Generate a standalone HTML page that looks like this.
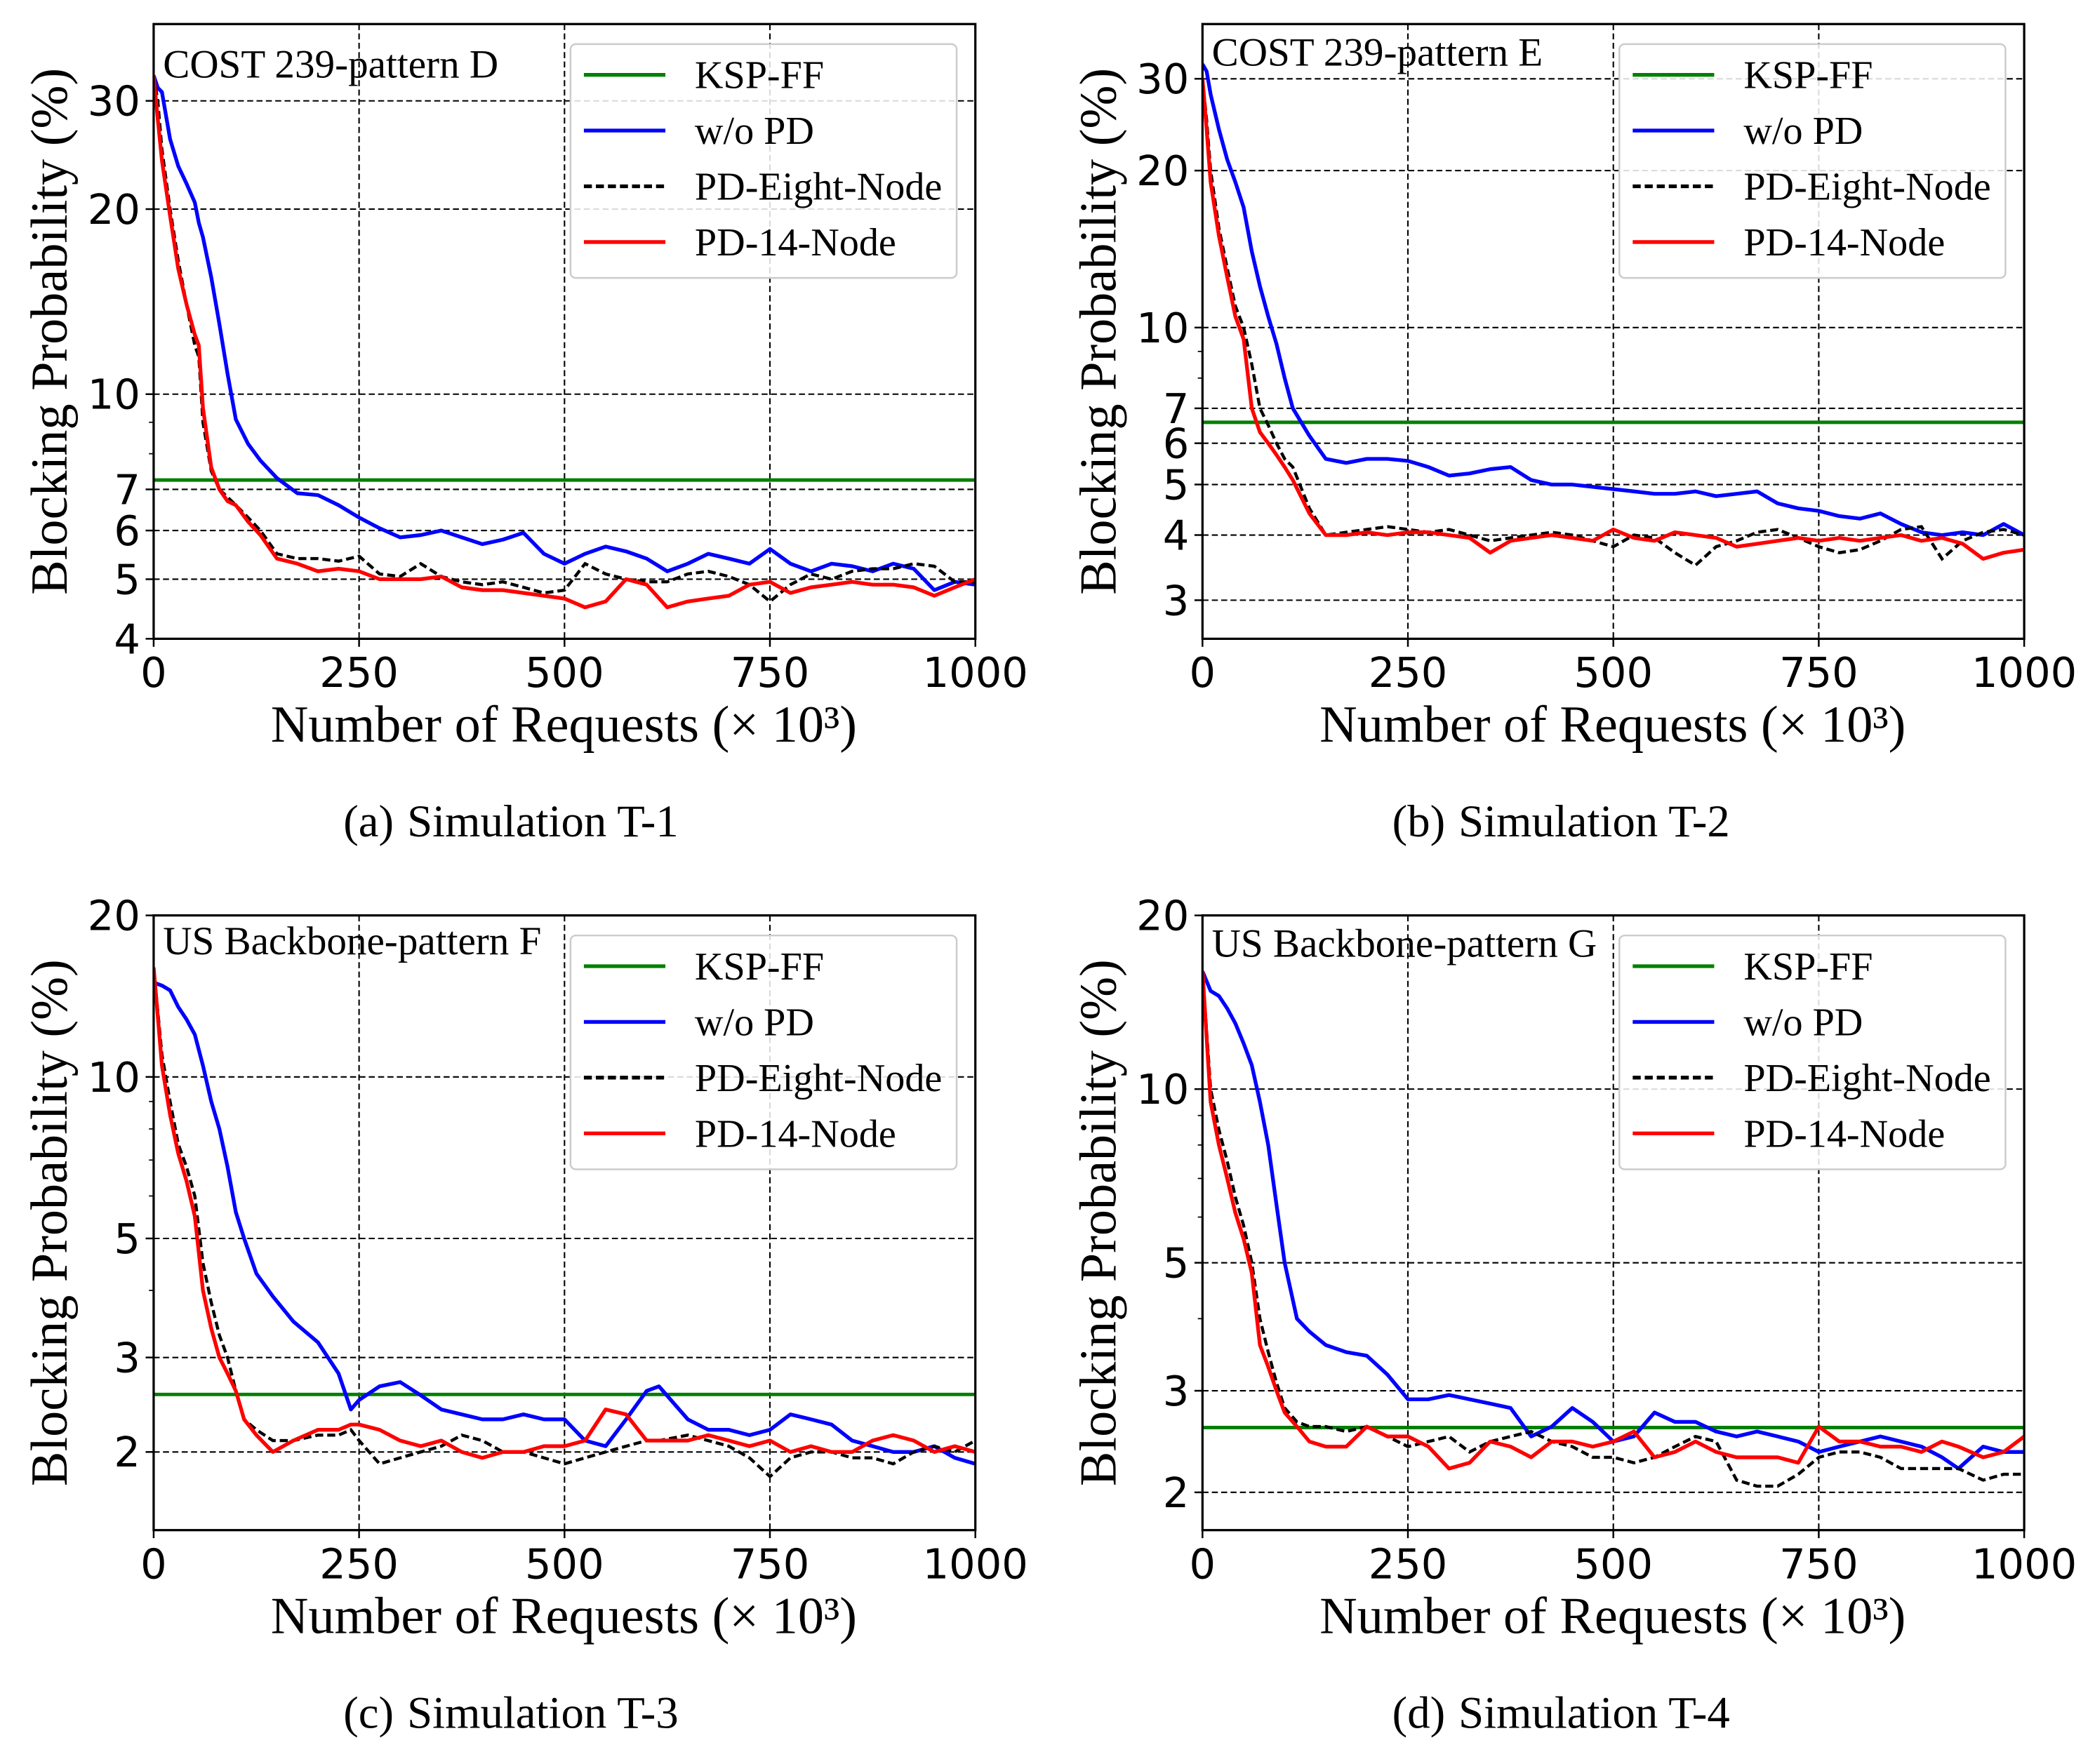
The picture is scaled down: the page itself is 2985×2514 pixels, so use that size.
<!DOCTYPE html>
<html><head><meta charset="utf-8"><style>html,body{margin:0;padding:0;background:#fff}svg{display:block}</style></head>
<body>
<svg id="fig" xmlns="http://www.w3.org/2000/svg" width="2985" height="2514" viewBox="0 0 1568 1320" preserveAspectRatio="none"></svg>
<script>
// ---------- data ----------
const seriesNames = ["KSP-FF","w/o PD","PD-Eight-Node","PD-14-Node"];
const kspA = 7.25, kspB = 6.58, kspC = 2.56, kspD = 2.59;

const xA = [0,5,10,20,30,40,50,55,60,70,80,90,100,115,130,150,175,200,225,250,275,300,325,350,375,400,425,450,475,500,525,550,575,600,625,650,675,700,725,750,775,800,825,850,875,900,925,950,975,1000];
const blueA = [33,31.5,31,26,23.5,22,20.5,19,18,15.5,13,10.8,9.1,8.3,7.8,7.3,6.9,6.85,6.6,6.3,6.05,5.85,5.9,6.0,5.85,5.7,5.8,5.95,5.5,5.3,5.5,5.65,5.55,5.4,5.15,5.3,5.5,5.4,5.3,5.6,5.3,5.15,5.3,5.25,5.15,5.3,5.2,4.8,4.95,4.9];
const eightA = [33,30,25,20,16.5,14,12,11.5,9,7.5,7.0,6.8,6.6,6.3,6.0,5.5,5.4,5.4,5.35,5.45,5.1,5.05,5.3,5.05,4.95,4.9,4.95,4.85,4.75,4.8,5.3,5.1,5.0,4.95,4.95,5.1,5.15,5.05,4.9,4.6,4.9,5.1,5.0,5.15,5.2,5.2,5.3,5.25,4.95,4.95];
const redA = [33,28,24,19.5,16,14,12.5,12,9.5,7.6,7.0,6.7,6.6,6.2,5.9,5.4,5.3,5.15,5.2,5.15,5.0,5.0,5.0,5.05,4.85,4.8,4.8,4.75,4.7,4.65,4.5,4.6,5.0,4.9,4.5,4.6,4.65,4.7,4.9,4.95,4.75,4.85,4.9,4.95,4.9,4.9,4.85,4.7,4.85,5.0];

const xB = [0,5,10,20,30,40,50,60,70,80,90,100,110,130,150,175,200,225,250,275,300,325,350,375,400,425,450,475,500,525,550,575,600,625,650,675,700,725,750,775,800,825,850,875,900,925,950,975,1000];
const blueB = [32,31,28,24,21,19,17,14,12,10.5,9.3,8,7,6.2,5.6,5.5,5.6,5.6,5.55,5.4,5.2,5.25,5.35,5.4,5.1,5.0,5.0,4.95,4.9,4.85,4.8,4.8,4.85,4.75,4.8,4.85,4.6,4.5,4.45,4.35,4.3,4.4,4.2,4.05,4.0,4.05,4.0,4.2,4.0];
const eightB = [30,25,20,15.5,13,11,10,8.5,7,6.5,6.0,5.6,5.4,4.5,4.0,4.05,4.1,4.15,4.1,4.05,4.1,4.0,3.9,3.95,4.0,4.05,4.0,3.9,3.8,4.0,3.95,3.7,3.5,3.8,3.9,4.05,4.1,3.95,3.8,3.7,3.75,3.9,4.1,4.15,3.6,3.9,4.05,4.1,4.0];
const redB = [30,24,19,15,12.5,10.5,9.5,7,6.3,6.0,5.7,5.4,5.1,4.4,4.0,4.0,4.05,4.0,4.05,4.05,4.0,3.95,3.7,3.9,3.95,4.0,3.95,3.9,4.1,3.95,3.9,4.05,4.0,3.95,3.8,3.85,3.9,3.95,3.9,3.95,3.9,3.95,4.0,3.9,3.95,3.85,3.6,3.7,3.75];

const xC = [0,10,20,30,40,50,60,70,80,90,100,110,125,145,170,200,225,240,250,275,300,325,350,375,400,425,450,475,500,525,550,575,600,615,650,675,700,725,750,775,800,825,850,875,900,925,950,975,1000];
const blueC = [15,14.8,14.5,13.5,12.8,12,10.5,9,8,6.8,5.6,5,4.3,3.9,3.5,3.2,2.8,2.4,2.5,2.65,2.7,2.55,2.4,2.35,2.3,2.3,2.35,2.3,2.3,2.1,2.05,2.3,2.6,2.65,2.3,2.2,2.2,2.15,2.2,2.35,2.3,2.25,2.1,2.05,2.0,2.0,2.05,1.95,1.9];
const eightC = [16,11,9,7.5,6.8,6.0,4.5,3.8,3.3,3.0,2.6,2.3,2.2,2.1,2.1,2.15,2.15,2.2,2.1,1.9,1.95,2.0,2.05,2.15,2.1,2.0,2.0,1.95,1.9,1.95,2.0,2.05,2.1,2.1,2.15,2.1,2.05,1.95,1.8,1.95,2.0,2.0,1.95,1.95,1.9,2.0,2.05,2.0,2.1];
const redC = [16,10.5,8.5,7.2,6.4,5.5,4,3.4,3.0,2.8,2.6,2.3,2.15,2.0,2.1,2.2,2.2,2.25,2.25,2.2,2.1,2.05,2.1,2.0,1.95,2.0,2.0,2.05,2.05,2.1,2.4,2.35,2.1,2.1,2.1,2.15,2.1,2.05,2.1,2.0,2.05,2.0,2.0,2.1,2.15,2.1,2.0,2.05,2.0];

const xD = [0,10,20,30,40,50,60,70,80,90,100,115,130,150,175,200,225,250,275,300,325,350,375,400,425,450,475,500,525,550,575,600,625,650,675,700,725,750,775,800,825,850,875,900,920,950,975,1000];
const blueD = [16,14.8,14.5,13.8,13,12,11,9.5,8,6.3,5,4,3.8,3.6,3.5,3.45,3.2,2.9,2.9,2.95,2.9,2.85,2.8,2.5,2.6,2.8,2.65,2.45,2.5,2.75,2.65,2.65,2.55,2.5,2.55,2.5,2.45,2.35,2.4,2.45,2.5,2.45,2.4,2.3,2.2,2.4,2.35,2.35];
const eightD = [16,10,8.5,7.5,6.5,5.8,5,4,3.5,3.1,2.8,2.65,2.6,2.6,2.55,2.6,2.5,2.4,2.45,2.5,2.35,2.45,2.5,2.55,2.45,2.4,2.3,2.3,2.25,2.3,2.4,2.5,2.45,2.1,2.05,2.05,2.15,2.3,2.35,2.35,2.3,2.2,2.2,2.2,2.2,2.1,2.15,2.15];
const redD = [16,9.5,8,7,6.1,5.5,4.8,3.6,3.3,3.0,2.75,2.6,2.45,2.4,2.4,2.6,2.5,2.5,2.4,2.2,2.25,2.45,2.4,2.3,2.45,2.45,2.4,2.45,2.55,2.3,2.35,2.45,2.35,2.3,2.3,2.3,2.25,2.6,2.45,2.45,2.4,2.4,2.35,2.45,2.4,2.3,2.35,2.5];

const ticksA = [4,5,6,7,10,20,30];
const ticksB = [3,4,5,6,7,10,20,30];
const ticksC = [2,3,5,10,20];
const ticksD = [2,3,5,10,20];
const xTicks = [0,250,500,750,1000];

// ---------- drawing ----------
const NS = "http://www.w3.org/2000/svg";
const svg = document.getElementById('fig');
function mk(tag, attrs, parent, text){
  const e = document.createElementNS(NS, tag);
  for (const k in attrs) e.setAttribute(k, attrs[k]);
  if (text !== undefined) e.textContent = text;
  (parent || svg).appendChild(e);
  return e;
}
const SERIF = '"Liberation Serif", serif';
const SANS = '"DejaVu Sans", "Liberation Sans", sans-serif';

function panel(p){
  const g = mk('g', {});
  
  
  const L = p.left, R = p.left + 615, T = p.top, B = p.top + 460;
  const sx = v => L + (v / 1000) * (R - L);
  const lmin = Math.log10(p.ymin), lmax = Math.log10(p.ymax);
  const sy = v => B - (Math.log10(v) - lmin) / (lmax - lmin) * (B - T);

  const clipId = 'clip-' + p.id;
  const cp = mk('clipPath', {id: clipId}, g);
  mk('rect', {x: L, y: T, width: R - L, height: B - T}, cp);

  for (const t of xTicks) {
    if (t > 0 && t < 1000) {
      const gl = mk('line', {x1: sx(t), x2: sx(t), y1: T, y2: B, stroke: '#000', 'stroke-width': 1.1, 'stroke-dasharray': '4.5,2.5'}, g);
      
      
    }
    const tk = mk('line', {x1: sx(t), x2: sx(t), y1: B, y2: B + 6, stroke: '#000', 'stroke-width': 1.3}, g);
    
    
    const tl = mk('text', {x: sx(t), y: B + 36, 'font-family': SANS, 'font-size': 31, 'text-anchor': 'middle'}, g, String(t));
    
    
  }
  for (const t of p.ticks) {
    const y = sy(t);
    if (y > T + 1 && y < B - 1) {
      const gl = mk('line', {x1: L, x2: R, y1: y, y2: y, stroke: '#000', 'stroke-width': 1.1, 'stroke-dasharray': '4.5,2.5'}, g);
      
      
    }
    const tk = mk('line', {x1: L - 6, x2: L, y1: y, y2: y, stroke: '#000', 'stroke-width': 1.3}, g);
    
    
    const tl = mk('text', {x: L - 10, y: y + 11, 'font-family': SANS, 'font-size': 31, 'text-anchor': 'end'}, g, String(t));
    
    
  }
  for (let d = 1; d <= 10; d *= 10) for (let m = 1; m < 10; m++) {
    const v = m * d;
    if (v <= p.ymin || v >= p.ymax || p.ticks.includes(v)) continue;
    const mt = mk('line', {x1: L - 3.5, x2: L, y1: sy(v), y2: sy(v), stroke: '#000', 'stroke-width': 0.9}, g);
    
    
  }

  const lines = mk('g', {'clip-path': 'url(#' + clipId + ')'}, g);
  const ksp = mk('line', {x1: L, x2: R, y1: sy(p.ksp), y2: sy(p.ksp), stroke: '#008000', 'stroke-width': 2.6}, lines);
  
  
  const path = (xs, ys) => xs.map((x, i) => (i ? 'L' : 'M') + sx(x).toFixed(1) + ',' + sy(ys[i]).toFixed(1)).join('');
  const blue = mk('path', {d: path(p.x, p.blue), fill: 'none', stroke: '#0000ff', 'stroke-width': 2.8, 'stroke-linejoin': 'round'}, lines);
  
  
  const blk = mk('path', {d: path(p.x, p.eight), fill: 'none', stroke: '#000', 'stroke-width': 2.3, 'stroke-dasharray': '6,3'}, lines);
  
  
  const red = mk('path', {d: path(p.x, p.red), fill: 'none', stroke: '#ff0000', 'stroke-width': 2.8, 'stroke-linejoin': 'round'}, lines);
  
  

  const fr = mk('rect', {x: L, y: T, width: R - L, height: B - T, fill: 'none', stroke: '#000', 'stroke-width': 1.7}, g);
  
  

  const an = mk('text', {x: L + 7, y: T + (p.annY || 30), 'font-family': SERIF, 'font-size': 30}, g, p.title);
  
  

  const lg = mk('g', {}, g);
  
  
  const lx = L + 312, ly = T + 15;
  mk('rect', {x: lx, y: ly, width: 289, height: 175, rx: 4, fill: 'rgba(255,255,255,0.85)', stroke: '#cccccc', 'stroke-width': 1.3}, lg);
  const ent = [['KSP-FF', '#008000', ''], ['w/o PD', '#0000ff', ''], ['PD-Eight-Node', '#000', '6,3']];
  ent.push(['PD-14-Node', '#ff0000', '']);
  ent.forEach((e, i) => {
    const y = ly + 23 + i * 41.7;
    const eg = mk('g', {}, lg);
    
    
    const a = {x1: lx + 10, x2: lx + 71, y1: y, y2: y, stroke: e[1], 'stroke-width': 2.8};
    if (e[2]) a['stroke-dasharray'] = e[2];
    mk('line', a, eg);
    mk('text', {x: lx + 93, y: y + 10, 'font-family': SERIF, 'font-size': 29.5}, eg, e[0]);
  });

  const yl = mk('text', {x: 0, y: 0, 'font-family': SERIF, 'font-size': 39, 'text-anchor': 'middle', transform: 'translate(' + (L - 65) + ',' + (T + 230) + ') rotate(-90)'}, g, 'Blocking Probability (%)');
  
  
  const xl = mk('text', {x: L + 307, y: B + 77, 'font-family': SERIF, 'font-size': 39, 'text-anchor': 'middle'}, g, 'Number of Requests (× 10³)');
  
  
  const cap = mk('text', {x: L + 142, y: B + 148, 'font-family': SERIF, 'font-size': 34}, g);
  
  
  mk('tspan', {}, cap, p.capA);
  mk('tspan', {dx: 10}, cap, p.capB);
}

panel({id: 'a', left: 115, top: 18, ymin: 4, ymax: 40, ticks: ticksA, ksp: kspA, x: xA, blue: blueA, eight: eightA, red: redA, title: 'COST 239-pattern D', annY: 40, capA: '(a)', capB: 'Simulation T-1'});
panel({id: 'b', left: 900, top: 18, ymin: 2.53, ymax: 38.2, ticks: ticksB, ksp: kspB, x: xB, blue: blueB, eight: eightB, red: redB, title: 'COST 239-pattern E', annY: 31, capA: '(b)', capB: 'Simulation T-2'});
panel({id: 'c', left: 115, top: 685, ymin: 1.43, ymax: 20, ticks: ticksC, ksp: kspC, x: xC, blue: blueC, eight: eightC, red: redC, title: 'US Backbone-pattern F', annY: 29, capA: '(c)', capB: 'Simulation T-3'});
panel({id: 'd', left: 900, top: 685, ymin: 1.72, ymax: 20, ticks: ticksD, ksp: kspD, x: xD, blue: blueD, eight: eightD, red: redD, title: 'US Backbone-pattern G', annY: 31, capA: '(d)', capB: 'Simulation T-4'});
</script>
</body></html>
